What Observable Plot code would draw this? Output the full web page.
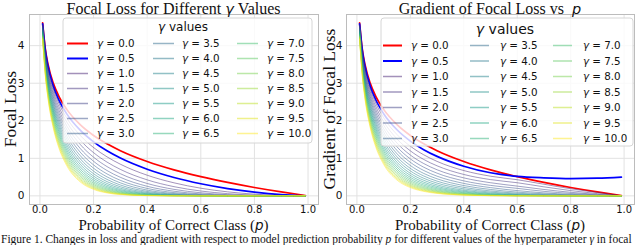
<!DOCTYPE html>
<html><head><meta charset="utf-8">
<script src="https://cdn.jsdelivr.net/npm/d3@7"></script>
<script src="https://cdn.jsdelivr.net/npm/@observablehq/plot@0.6"></script>
<style>
body{margin:0;background:#fff;width:640px;height:245px;overflow:hidden;}
#row{display:flex;width:640px;height:233px;}
#row svg{overflow:visible;display:block}
#cap{font-family:"Liberation Serif",serif;font-size:11.5px;white-space:nowrap;overflow:hidden;width:639px;padding-left:1px;line-height:13px;color:#111}
</style></head><body>
<div id="row"></div>
<div id="cap">Figure 1. Changes in loss and gradient with respect to model prediction probability <i>p</i> for different values of the hyperparameter <i>γ</i> in focal</div>
<script>
// probability grid (x values)
const P = [0.01,0.02,0.03,0.05,0.07,0.1,0.15,0.2,0.25,0.3,0.4,0.5,0.6,0.7,0.8,0.9,0.99];
const gammas = [0,0.5,1,1.5,2,2.5,3,3.5,4,4.5,5,5.5,6,6.5,7,7.5,8,8.5,9,9.5,10];
const xTicks = [0,0.2,0.4,0.6,0.8,1.0];
const yTicks = [0,1,2,3,4];

// Focal loss curves, one row per gamma
const lossByGamma = [
[4.605,3.912,3.507,2.996,2.659,2.303,1.897,1.609,1.386,1.204,0.916,0.693,0.511,0.357,0.223,0.105,0.010],
[4.582,3.873,3.454,2.920,2.564,2.184,1.749,1.439,1.200,1.007,0.710,0.490,0.323,0.195,0.100,0.033,0.001],
[4.559,3.834,3.402,2.846,2.473,2.072,1.612,1.287,1.040,0.843,0.550,0.347,0.204,0.107,0.045,0.011,0],
[4.536,3.795,3.350,2.774,2.385,1.966,1.487,1.151,0.900,0.705,0.426,0.245,0.129,0.059,0.020,0.003,0],
[4.513,3.757,3.300,2.704,2.300,1.865,1.371,1.030,0.780,0.590,0.330,0.173,0.082,0.032,0.009,0.001,0],
[4.491,3.719,3.250,2.635,2.218,1.769,1.264,0.921,0.675,0.494,0.255,0.123,0.052,0.018,0.004,0,0],
[4.468,3.682,3.201,2.569,2.139,1.679,1.165,0.824,0.585,0.413,0.198,0.087,0.033,0.010,0.002,0,0],
[4.446,3.645,3.152,2.504,2.063,1.592,1.074,0.737,0.506,0.346,0.153,0.061,0.021,0.005,0.001,0,0],
[4.424,3.608,3.105,2.440,1.989,1.511,0.990,0.659,0.439,0.289,0.119,0.043,0.013,0.003,0,0,0],
[4.401,3.572,3.058,2.378,1.918,1.433,0.913,0.590,0.380,0.242,0.092,0.031,0.008,0.002,0,0,0],
[4.379,3.536,3.012,2.318,1.850,1.360,0.842,0.527,0.329,0.202,0.071,0.022,0.005,0.001,0,0,0],
[4.357,3.501,2.966,2.260,1.784,1.290,0.776,0.472,0.285,0.169,0.055,0.015,0.003,0,0,0,0],
[4.336,3.465,2.921,2.202,1.720,1.224,0.715,0.422,0.247,0.142,0.043,0.011,0.002,0,0,0,0],
[4.314,3.431,2.877,2.147,1.659,1.161,0.660,0.377,0.214,0.119,0.033,0.008,0.001,0,0,0,0],
[4.292,3.396,2.834,2.092,1.600,1.101,0.608,0.337,0.185,0.099,0.026,0.005,0.001,0,0,0,0],
[4.271,3.362,2.791,2.039,1.543,1.045,0.561,0.302,0.160,0.083,0.020,0.004,0,0,0,0,0],
[4.249,3.328,2.749,1.988,1.488,0.991,0.517,0.270,0.139,0.069,0.015,0.003,0,0,0,0,0],
[4.228,3.295,2.707,1.937,1.435,0.940,0.477,0.241,0.120,0.058,0.012,0.002,0,0,0,0,0],
[4.207,3.262,2.666,1.888,1.384,0.892,0.439,0.216,0.104,0.049,0.009,0.001,0,0,0,0,0],
[4.186,3.229,2.626,1.840,1.334,0.846,0.405,0.193,0.090,0.041,0.007,0.001,0,0,0,0,0],
[4.165,3.196,2.586,1.794,1.287,0.803,0.373,0.173,0.078,0.034,0.006,0.001,0,0,0,0,0]
];

// Gradient curves, one row per gamma
const gradByGamma = [
[4.605,3.912,3.507,2.996,2.659,2.303,1.897,1.609,1.386,1.204,0.916,0.693,0.511,0.357,0.223,0.105,0.010],
[4.582,3.873,3.455,2.921,2.566,2.189,1.760,1.459,1.231,1.052,0.790,0.615,0.520,0.480,0.460,0.470,0.500],
[4.559,3.834,3.403,2.848,2.478,2.082,1.633,1.323,1.094,0.918,0.674,0.524,0.430,0.310,0.190,0.090,0.005],
[4.536,3.795,3.351,2.778,2.392,1.980,1.516,1.199,0.970,0.800,0.570,0.433,0.350,0.240,0.140,0.060,0.003],
[4.513,3.757,3.301,2.709,2.309,1.882,1.406,1.087,0.861,0.695,0.479,0.350,0.260,0.170,0.095,0.040,0.002],
[4.491,3.719,3.251,2.641,2.229,1.789,1.305,0.985,0.763,0.604,0.399,0.279,0.200,0.120,0.065,0.025,0.001],
[4.468,3.682,3.202,2.576,2.151,1.702,1.210,0.893,0.676,0.524,0.332,0.220,0.140,0.080,0.040,0.015,0],
[4.446,3.645,3.153,2.512,2.077,1.618,1.122,0.809,0.598,0.454,0.274,0.170,0.100,0.055,0.025,0.008,0],
[4.424,3.608,3.106,2.448,2.004,1.539,1.041,0.732,0.530,0.392,0.226,0.131,0.071,0.035,0.015,0.004,0],
[4.401,3.572,3.059,2.387,1.935,1.463,0.966,0.664,0.469,0.339,0.186,0.101,0.049,0.022,0.008,0.002,0],
[4.379,3.536,3.013,2.328,1.868,1.391,0.896,0.600,0.415,0.292,0.151,0.077,0.034,0.014,0.005,0.001,0],
[4.357,3.501,2.967,2.271,1.803,1.323,0.831,0.544,0.366,0.252,0.124,0.058,0.023,0.009,0.003,0,0],
[4.336,3.465,2.922,2.213,1.740,1.258,0.770,0.492,0.324,0.218,0.101,0.044,0.016,0.006,0.002,0,0],
[4.314,3.431,2.878,2.159,1.680,1.196,0.715,0.445,0.286,0.188,0.082,0.033,0.011,0.004,0.001,0,0],
[4.292,3.396,2.835,2.105,1.621,1.136,0.663,0.403,0.252,0.161,0.066,0.024,0.007,0.002,0,0,0],
[4.271,3.362,2.792,2.052,1.565,1.081,0.615,0.365,0.222,0.138,0.054,0.019,0.005,0.001,0,0,0],
[4.249,3.328,2.750,2.002,1.511,1.027,0.570,0.330,0.197,0.119,0.043,0.014,0.003,0.001,0,0,0],
[4.228,3.295,2.708,1.951,1.458,0.977,0.529,0.298,0.173,0.102,0.035,0.010,0.002,0,0,0,0],
[4.207,3.262,2.667,1.903,1.408,0.929,0.490,0.270,0.153,0.088,0.028,0.007,0.001,0,0,0,0],
[4.186,3.229,2.627,1.855,1.358,0.883,0.455,0.244,0.135,0.075,0.022,0.006,0.001,0,0,0,0],
[4.165,3.196,2.587,1.809,1.312,0.840,0.421,0.221,0.119,0.065,0.019,0.005,0.001,0,0,0,0]
];

const colors = gammas.map((g,i)=> i===0 ? "#ff0000" : i===1 ? "#0000ff" : d3.interpolateViridis(i/20));
const OTHER_OPACITY = 0.5;
const SERIF = "'Liberation Serif', 'Times New Roman', serif";
const SANS = "'DejaVu Sans', sans-serif";

function panel(vals, o){
  const rows = [];
  vals.forEach((arr,gi)=>arr.forEach((v,pi)=>rows.push({p:P[pi], v, g:gammas[gi], gi})));
  const svg = Plot.plot({
    width:320, height:233, marginLeft:o.ml, marginRight:o.mr, marginTop:14, marginBottom:29,
    style:{fontFamily:SANS, fontSize:"10px", color:"#111", background:"transparent", overflow:"visible"},
    x:{domain:[-0.039,1.039]},
    y:{domain:[-0.23,4.83]},
    color:{type:"ordinal", domain:gammas, range:colors},
    marks:[
      Plot.gridX({ticks:xTicks, stroke:"#e2e2e2", strokeOpacity:1}),
      Plot.gridY({ticks:yTicks, stroke:"#e2e2e2", strokeOpacity:1}),
      Plot.axisX({ticks:xTicks, tickFormat:d=>d.toFixed(1), tickSize:0, tickPadding:1, label:null, fontSize:10}),
      Plot.axisY({ticks:yTicks, tickFormat:d=>String(d), tickSize:0, tickPadding:o.ypad, label:null, fontSize:10.5}),
      Plot.line(rows.filter(d=>d.gi===0), {x:"p", y:"v", stroke:colors[0], strokeWidth:1.7, curve:"monotone-x"}),
      Plot.line(rows.filter(d=>d.gi===1), {x:"p", y:"v", stroke:colors[1], strokeWidth:1.7, curve:"monotone-x"}),
      Plot.line(rows.filter(d=>d.gi>=2), {x:"p", y:"v", z:"g", stroke:"g", strokeOpacity:OTHER_OPACITY, strokeWidth:1, curve:"monotone-x"}),
      Plot.frame({stroke:"#bcbcbc"})
    ]
  });
  const s = d3.select(svg);
  // legend
  const L = o.leg;
  const g = s.append("g").attr("text-anchor","start");
  g.append("rect").attr("x",L.x).attr("y",L.y).attr("width",L.w).attr("height",L.h)
    .attr("rx",3).attr("fill","#fff").attr("fill-opacity",0.8).attr("stroke","#d6d6d6");
  const t = g.append("text").attr("x",L.tx).attr("y",L.ty).attr("text-anchor","middle")
    .attr("font-family",SANS).attr("font-size",L.ts).attr("fill","#111");
  t.append("tspan").attr("font-style","italic").text("γ");
  t.append("tspan").text(" values");
  gammas.forEach((gm,i)=>{
    const c = Math.floor(i/7), r = i%7;
    const yy = L.r0 + r*L.dr;
    g.append("line").attr("x1",L.lx[c]).attr("x2",L.lx[c]+L.ll).attr("y1",yy).attr("y2",yy)
      .attr("stroke",colors[i]).attr("stroke-width", i<2?2:1.5).attr("stroke-opacity", i<2?1:OTHER_OPACITY);
    const tt = g.append("text").attr("x",L.txx[c]).attr("y",yy).attr("dy","0.36em").attr("text-anchor","start")
      .attr("font-family",SANS).attr("font-size",10.3).attr("fill","#111");
    tt.append("tspan").attr("font-style","italic").text("γ");
    tt.append("tspan").text(" = " + gm.toFixed(1));
  });
  // title
  const ti = s.append("text").attr("x",o.cx).attr("y",14).attr("text-anchor","middle")
    .attr("font-family",SERIF).attr("font-size",16).attr("fill","#111");
  o.title(ti);
  // x label
  const xl = s.append("text").attr("x",o.cx).attr("y",230).attr("text-anchor","middle")
    .attr("font-family",SERIF).attr("font-size",15).attr("fill","#111");
  xl.append("tspan").text("Probability of Correct Class (");
  xl.append("tspan").attr("font-family",SANS).attr("font-style","italic").attr("font-size",13.5).text("p");
  xl.append("tspan").text(")");
  // y label
  s.append("text").attr("transform",`translate(${o.ylx},109) rotate(-90)`).attr("text-anchor","middle")
    .attr("dy","0.35em").attr("font-family",SERIF).attr("font-size",17.5).attr("fill","#111").text(o.ylabel);
  return svg;
}

const row = document.getElementById("row");
row.appendChild(panel(lossByGamma, {
  ml:29, mr:2, ypad:5, cx:173.5, ylx:10, ylabel:"Focal Loss",
  title: t=>{ t.append("tspan").text("Focal Loss for Different "); t.append("tspan").attr("font-family",SANS).attr("font-style","italic").attr("font-size",14.5).text("γ"); t.append("tspan").text(" Values"); },
  leg:{x:63,y:18,w:249,h:125,tx:183,ty:31,ts:12,r0:43.5,dr:15,lx:[67,153,237],ll:21,txx:[97,182,267]}
}));
row.appendChild(panel(gradByGamma, {
  ml:26, mr:6, ypad:4, cx:170, ylx:9, ylabel:"Gradient of Focal Loss",
  title: t=>{ t.append("tspan").text("Gradient of Focal Loss vs  "); t.append("tspan").attr("font-family",SANS).attr("font-style","italic").attr("font-size",14.5).text("p"); },
  leg:{x:61,y:18,w:252,h:128,tx:185,ty:34,ts:14,r0:45.5,dr:15.5,lx:[63,150,233],ll:19,txx:[91,180,263]}
}));
</script>
</body></html>
